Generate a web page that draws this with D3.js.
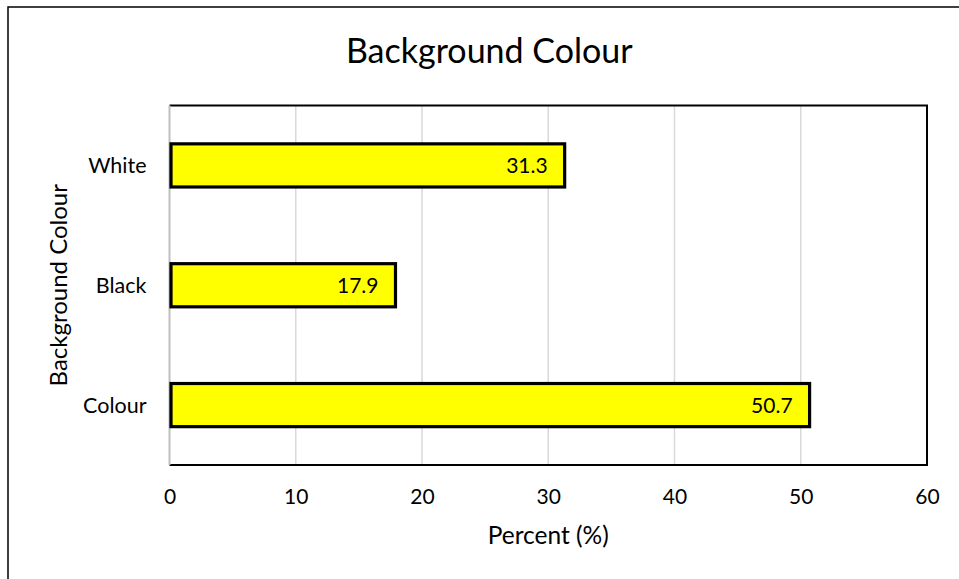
<!DOCTYPE html>
<html>
<head>
<meta charset="utf-8">
<script src="https://cdn.jsdelivr.net/npm/d3@7"></script>
<style>
  html, body { margin: 0; padding: 0; background: #fff; }
  svg { display: block; font-family: Lato, "Open Sans", sans-serif; }
</style>
</head>
<body>
<svg id="chart" width="959" height="579"></svg>
<script>
const categories = ["White", "Black", "Colour"];
const values = [31.3, 17.9, 50.7];
const xTicks = [0, 10, 20, 30, 40, 50, 60];
const chartTitle = "Background Colour";
const xAxisTitle = "Percent (%)";
const yAxisTitle = "Background Colour";

const W = 959, H = 579;
const plot = { left: 169.5, right: 927, top: 105.5, bottom: 465 };

const svg = d3.select("#chart");

// outer chart border
svg.append("rect")
  .attr("x", 8).attr("y", 7)
  .attr("width", W + 10).attr("height", H + 10)
  .attr("fill", "#fff").attr("stroke", "#000").attr("stroke-width", 1.5);

const x = d3.scaleLinear().domain([0, 60]).range([plot.left, plot.right]);
const y = d3.scaleBand().domain(categories).range([plot.top, plot.bottom]).paddingInner(0.64).paddingOuter(0.32);

// gridlines
svg.append("g").selectAll("line").data(xTicks.filter(d => d > 0 && d < 60)).join("line")
  .attr("x1", d => x(d)).attr("x2", d => x(d))
  .attr("y1", plot.top).attr("y2", plot.bottom)
  .attr("stroke", "#d9d9d9").attr("stroke-width", 1.5);

// plot border
const border = svg.append("g").attr("stroke", "#000").attr("stroke-width", 2);
border.append("line").attr("x1", plot.left).attr("x2", plot.right + 1).attr("y1", plot.top).attr("y2", plot.top);
border.append("line").attr("x1", plot.right).attr("x2", plot.right).attr("y1", plot.top).attr("y2", plot.bottom);
border.append("line").attr("x1", plot.left).attr("x2", plot.right + 1).attr("y1", plot.bottom).attr("y2", plot.bottom);
svg.append("line").attr("x1", plot.left).attr("x2", plot.left).attr("y1", plot.top).attr("y2", plot.bottom)
  .attr("stroke", "#bfbfbf").attr("stroke-width", 2);

// bars
svg.append("g").selectAll("rect").data(categories).join("rect")
  .attr("x", x(0) + 1.5)
  .attr("y", d => y(d))
  .attr("width", (d, i) => x(values[i]) - x(0) - 1.5)
  .attr("height", y.bandwidth())
  .attr("fill", "#ffff00").attr("stroke", "#000").attr("stroke-width", 3.2);

// value labels
svg.append("g").selectAll("text").data(categories).join("text")
  .attr("x", (d, i) => x(values[i]) - 17)
  .attr("y", d => y(d) + y.bandwidth() / 2)
  .attr("dy", "0.36em")
  .attr("text-anchor", "end")
  .attr("font-size", 21)
  .attr("fill", "#000")
  .text((d, i) => values[i].toFixed(1));

// x axis
const xAxis = d3.axisBottom(x).tickValues(xTicks).tickSize(0).tickPadding(0).tickFormat(d3.format("d"));
const gx = svg.append("g").attr("transform", `translate(0,${plot.bottom})`).call(xAxis);
gx.select(".domain").remove();
gx.selectAll("text").attr("font-size", 21).attr("font-family", "Lato").attr("fill", "#000")
  .attr("dy", null).attr("y", 38.5);

// y axis
const yAxis = d3.axisLeft(y).tickSize(0).tickPadding(0);
const gy = svg.append("g").attr("transform", `translate(${plot.left},0)`).call(yAxis);
gy.select(".domain").remove();
gy.selectAll("text").attr("font-size", 21.5).attr("font-family", "Lato").attr("fill", "#000")
  .attr("x", -23).attr("dy", "0.36em");

// title
svg.append("text").attr("x", (plot.left + plot.right) / 2 - 59).attr("y", 63)
  .attr("text-anchor", "middle").attr("font-size", 34).attr("fill", "#000").text(chartTitle);

// x axis title
svg.append("text").attr("x", (plot.left + plot.right) / 2).attr("y", 543.5)
  .attr("text-anchor", "middle").attr("font-size", 24.5).attr("fill", "#000").text(xAxisTitle);

// y axis title
svg.append("text").attr("transform", `translate(67,${(plot.top + plot.bottom) / 2}) rotate(-90)`)
  .attr("text-anchor", "middle").attr("font-size", 24).attr("fill", "#000").text(yAxisTitle);
</script>
</body>
</html>
